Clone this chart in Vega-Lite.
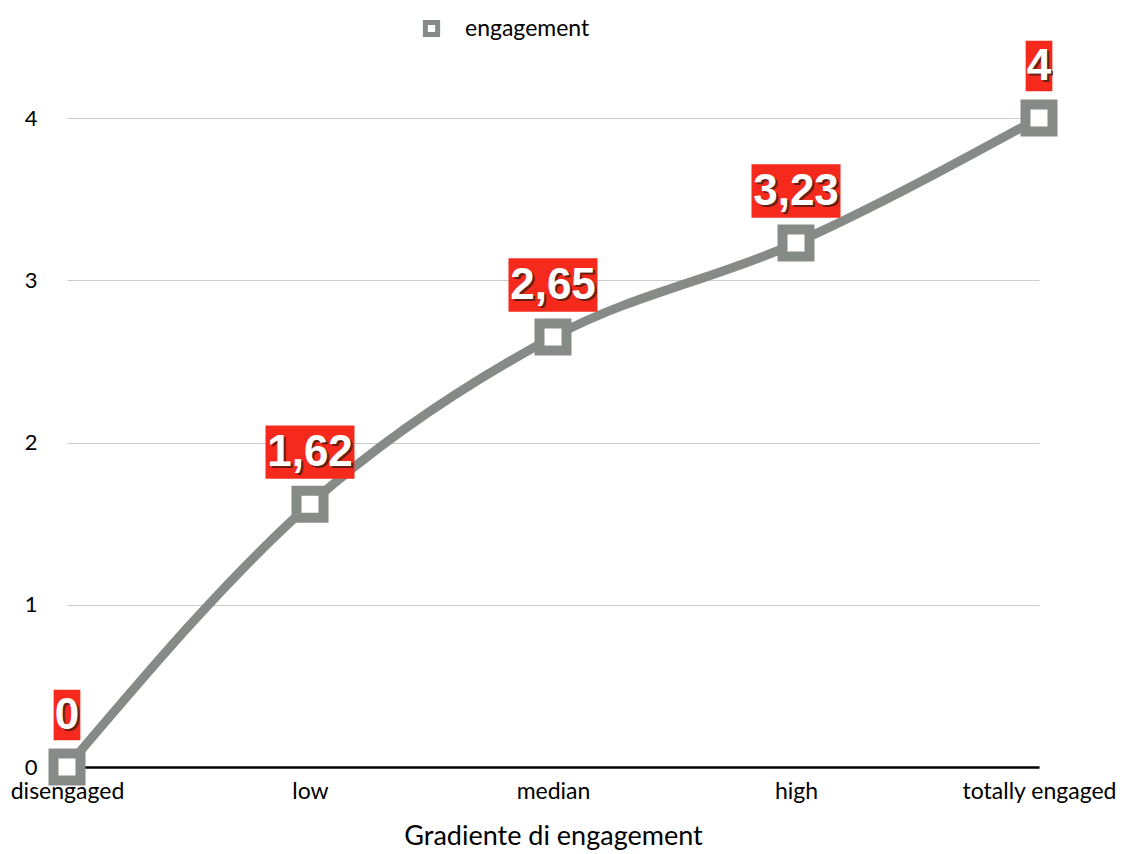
{
  "$schema": "https://vega.github.io/schema/vega-lite/v6.json",
  "autosize": "none",
  "padding": {"left": 67, "top": 118, "right": 83, "bottom": 87},
  "width": 972,
  "height": 649,
  "background": "white",
  "config": {
    "view": {"stroke": null},
    "font": "Lato"
  },
  "data": {
    "values": [
      {"level": "disengaged", "value": 0, "label": "0", "series": "engagement"},
      {"level": "low", "value": 1.62, "label": "1,62", "series": "engagement"},
      {"level": "median", "value": 2.65, "label": "2,65", "series": "engagement"},
      {"level": "high", "value": 3.23, "label": "3,23", "series": "engagement"},
      {"level": "totally engaged", "value": 4, "label": "4", "series": "engagement"}
    ]
  },
  "encoding": {
    "x": {
      "field": "level",
      "type": "ordinal",
      "sort": null,
      "scale": {"type": "point", "padding": 0},
      "axis": {
        "title": "Gradiente di engagement",
        "titleFont": "Lato",
        "titleFontSize": 27,
        "titleFontWeight": "normal",
        "titleColor": "black",
        "titlePadding": 20,
        "labelAngle": 0,
        "labelFont": "Lato",
        "labelFontSize": 23,
        "labelColor": "black",
        "labelPadding": 13,
        "ticks": false,
        "domainColor": "black",
        "domainWidth": 2.5,
        "grid": false
      }
    },
    "y": {
      "field": "value",
      "type": "quantitative",
      "scale": {"domain": [0, 4]},
      "axis": {
        "title": null,
        "values": [0, 1, 2, 3, 4],
        "labelFont": "Lato",
        "labelFontSize": 22,
        "labelColor": "black",
        "labelPadding": 30,
        "ticks": false,
        "domain": false,
        "grid": true,
        "gridColor": "#cccccc",
        "gridWidth": 1
      }
    }
  },
  "layer": [
    {
      "mark": {"type": "line", "interpolate": "monotone", "strokeWidth": 9, "strokeJoin": "round"},
      "encoding": {
        "color": {
          "field": "series",
          "type": "nominal",
          "scale": {"range": ["#868b88"]},
          "legend": {
            "title": null,
            "orient": "none",
            "legendX": 353,
            "legendY": -101,
            "symbolType": "square",
            "symbolFillColor": "white",
            "symbolStrokeColor": "#868b88",
            "symbolStrokeWidth": 5,
            "symbolSize": 150,
            "symbolOpacity": 1,
            "labelFont": "Lato",
            "labelFontSize": 23,
            "labelColor": "black",
            "labelOffset": 22
          }
        }
      }
    },
    {
      "mark": {"type": "point", "shape": "square", "size": 729, "filled": false, "fill": "white", "fillOpacity": 1, "stroke": "#868b88", "strokeWidth": 10, "opacity": 1}
    },
    {
      "mark": {"type": "point", "filled": true, "fill": "#f52a1c", "opacity": 1, "size": 7921, "yOffset": -52, "stroke": null},
      "encoding": {
        "shape": {
          "condition": {"test": "length(datum.label) == 1", "value": "M-0.3,-0.57H0.3V0.57H-0.3Z"},
          "value": "M-1,-0.6H1V0.6H-1Z"
        }
      }
    },
    {
      "mark": {"type": "text", "font": "Liberation Sans", "fontWeight": "bold", "fontSize": 44, "fill": "#3a1a12", "opacity": 0.75, "baseline": "middle", "align": "center", "dx": 2, "dy": -49},
      "encoding": {"text": {"field": "label"}}
    },
    {
      "mark": {"type": "text", "font": "Liberation Sans", "fontWeight": "bold", "fontSize": 44, "fill": "white", "baseline": "middle", "align": "center", "dx": 0, "dy": -51},
      "encoding": {"text": {"field": "label"}}
    }
  ]
}
